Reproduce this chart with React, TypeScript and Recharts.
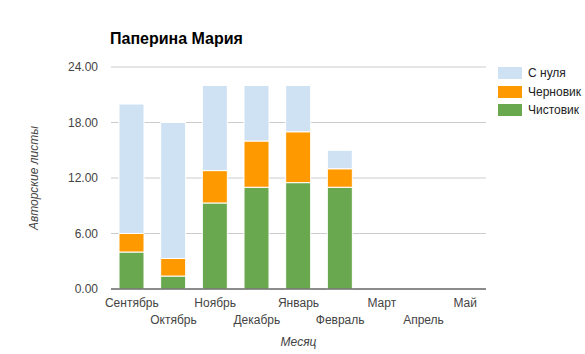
import { BarChart, Bar, XAxis, YAxis, CartesianGrid } from "recharts";

const months = [
  "Сентябрь",
  "Октябрь",
  "Ноябрь",
  "Декабрь",
  "Январь",
  "Февраль",
  "Март",
  "Апрель",
  "Май",
];
const clean = [4, 1.4, 9.3, 11, 11.5, 11, 0, 0, 0];
const draft = [2, 1.9, 3.5, 5, 5.5, 2, 0, 0, 0];
const scratch = [14, 14.7, 9.2, 6, 5, 2, 0, 0, 0];
const yTicks = [0, 6, 12, 18, 24];

const series = [
  { key: "scratch", name: "С нуля", color: "#cfe2f3" },
  { key: "draft", name: "Черновик", color: "#ff9900" },
  { key: "clean", name: "Чистовик", color: "#6aa84f" },
];

const data = months.map((m, i) => ({
  month: m,
  clean: clean[i],
  draft: draft[i],
  scratch: scratch[i],
}));

const font = "'Liberation Sans', Arial, sans-serif";

const MonthTick = (props: any) => {
  const { x, y, payload, index } = props;
  const dy = index % 2 === 0 ? 18 : 35;
  return (
    <text
      x={x}
      y={y + dy}
      textAnchor="middle"
      fontSize={12}
      fill="#444"
      fontFamily={font}
    >
      {payload.value}
    </text>
  );
};

const YTitle = (props: any) => {
  const { viewBox } = props;
  const cy = viewBox.y + viewBox.height / 2;
  return (
    <text
      x={34}
      y={cy}
      transform={`rotate(-90 34 ${cy})`}
      textAnchor="middle"
      dominantBaseline="central"
      fontSize={12}
      fontStyle="italic"
      fill="#444"
      fontFamily={font}
    >
      Авторские листы
    </text>
  );
};

export default function App() {
  return (
    <div
      style={{
        position: "absolute",
        left: 0,
        top: 0,
        width: 585,
        height: 354,
        background: "#fff",
        fontFamily: font,
      }}
    >
      <div
        style={{
          position: "absolute",
          left: 110,
          top: 30,
          fontSize: 16,
          fontWeight: "bold",
          color: "#000",
          lineHeight: "18px",
        }}
      >
        Паперина Мария
      </div>

      <BarChart
        width={585}
        height={354}
        data={data}
        margin={{ top: 67, right: 99, bottom: 5, left: 0 }}
        barSize={25}
      >
        <CartesianGrid vertical={false} stroke="#ccc" />
        <XAxis
          dataKey="month"
          interval={0}
          tickLine={false}
          tickSize={0}
          tickMargin={0}
          height={60}
          axisLine={{ stroke: "#333" }}
          tick={<MonthTick />}
          label={{
            value: "Месяц",
            position: "insideBottom",
            offset: 3,
            fontSize: 12,
            fontStyle: "italic",
            fill: "#444",
            fontFamily: font,
          }}
        />
        <YAxis
          width={111}
          domain={[0, 24]}
          ticks={yTicks}
          axisLine={false}
          tickLine={false}
          tickSize={0}
          tickMargin={13}
          tickFormatter={(v: number) => v.toFixed(2)}
          tick={{ fontSize: 12, fill: "#444", fontFamily: font }}
          label={<YTitle />}
        />
        <Bar
          dataKey="clean"
          stackId="a"
          fill="#6aa84f"
          stroke="#fff"
          strokeWidth={1}
          isAnimationActive={false}
        />
        <Bar
          dataKey="draft"
          stackId="a"
          fill="#ff9900"
          stroke="#fff"
          strokeWidth={1}
          isAnimationActive={false}
        />
        <Bar
          dataKey="scratch"
          stackId="a"
          fill="#cfe2f3"
          stroke="#fff"
          strokeWidth={1}
          isAnimationActive={false}
        />
      </BarChart>

      <div style={{ position: "absolute", left: 498, top: 67 }}>
        {series.map((s) => (
          <div
            key={s.key}
            style={{
              display: "flex",
              alignItems: "center",
              height: 12,
              marginBottom: 6.5,
            }}
          >
            <div
              style={{ width: 24, height: 12, background: s.color }}
            />
            <span
              style={{
                marginLeft: 6,
                fontSize: 12,
                color: "#222",
                lineHeight: "12px",
              }}
            >
              {s.name}
            </span>
          </div>
        ))}
      </div>
    </div>
  );
}
